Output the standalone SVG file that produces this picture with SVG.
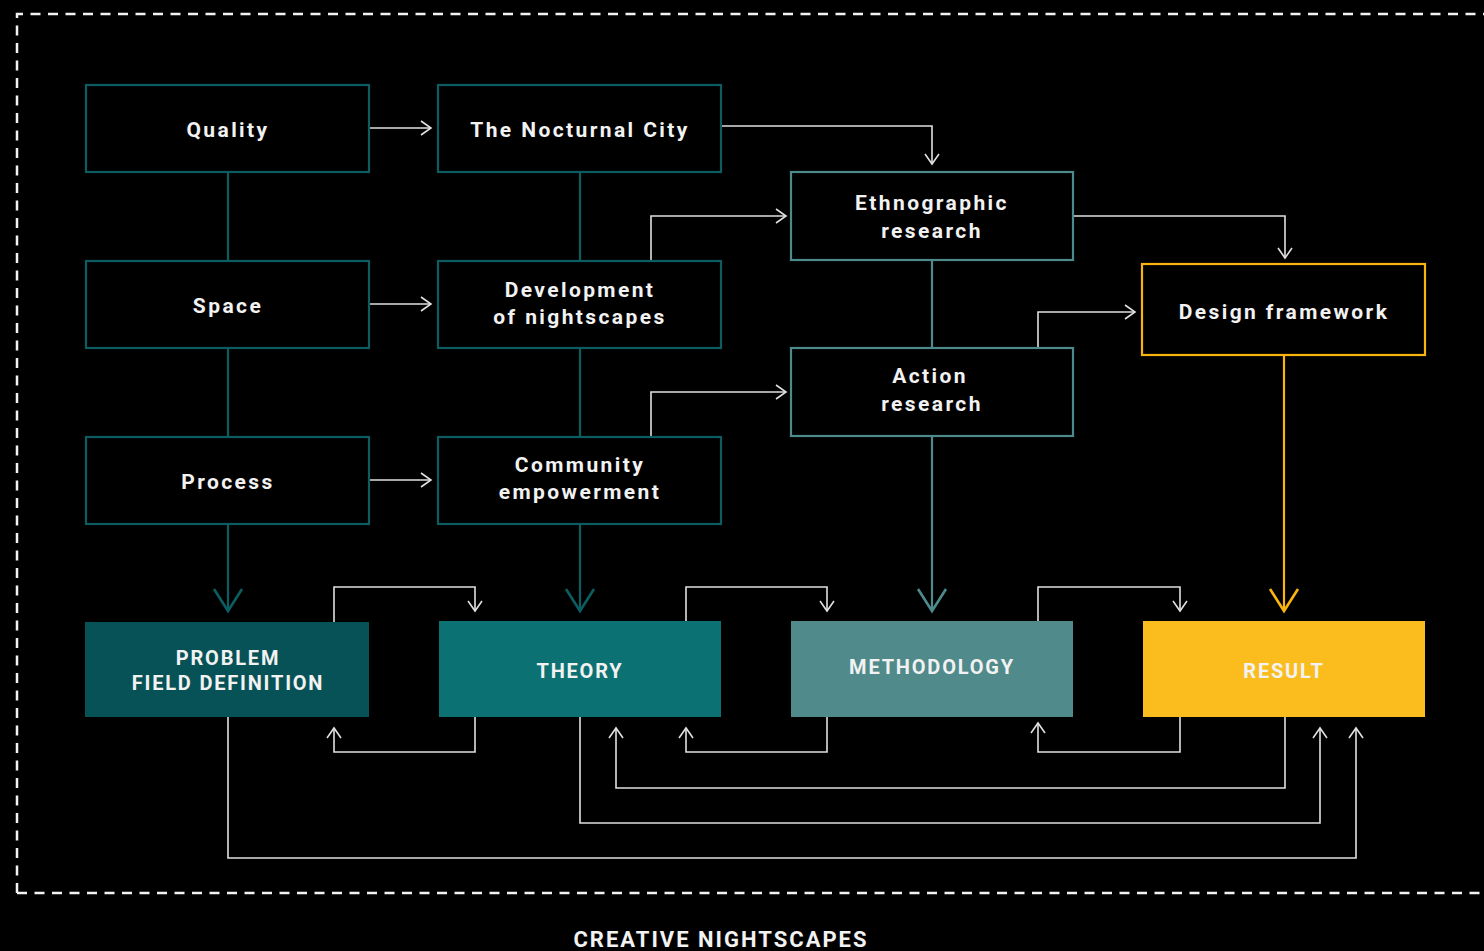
<svg xmlns="http://www.w3.org/2000/svg" width="1484" height="951" viewBox="0 0 1484 951">
<defs>
<style>
.txt{font-family:Roboto,"Liberation Sans",sans-serif;font-weight:bold;font-size:21px;letter-spacing:2.4px;fill:#f2f2f2;text-anchor:middle}
.cap{font-size:20px;letter-spacing:1.8px}
.box1{fill:#000;stroke:#0b5d61;stroke-width:2.2}
.box2{fill:#000;stroke:#4e8a8c;stroke-width:2.2}
.box3{fill:#000;stroke:#f9b410;stroke-width:2.2}
.w{fill:none;stroke:#e0e0e0;stroke-width:1.6;marker-end:url(#aw)}
.t1{fill:none;stroke:#0b5d61;stroke-width:2.2}
.t2{fill:none;stroke:#4e8a8c;stroke-width:2.2}
.y{fill:none;stroke:#f9b410;stroke-width:2.2}
</style>
<marker id="aw" markerUnits="userSpaceOnUse" markerWidth="24" markerHeight="24" viewBox="-12 -12 24 24" refX="0" refY="0" orient="auto">
<path d="M-10,-7 L0,0 L-10,7" fill="none" stroke="#e0e0e0" stroke-width="1.6"/>
</marker>
<marker id="at1" markerUnits="userSpaceOnUse" markerWidth="40" markerHeight="40" viewBox="-30 -20 40 40" refX="0" refY="0" orient="auto">
<path d="M-22,-14 L0,0 L-22,14" fill="none" stroke="#0b5d61" stroke-width="2.6"/>
</marker>
<marker id="at2" markerUnits="userSpaceOnUse" markerWidth="40" markerHeight="40" viewBox="-30 -20 40 40" refX="0" refY="0" orient="auto">
<path d="M-22,-14 L0,0 L-22,14" fill="none" stroke="#4e8a8c" stroke-width="2.6"/>
</marker>
<marker id="ay" markerUnits="userSpaceOnUse" markerWidth="40" markerHeight="40" viewBox="-30 -20 40 40" refX="0" refY="0" orient="auto">
<path d="M-22,-14 L0,0 L-22,14" fill="none" stroke="#f9b410" stroke-width="2.6"/>
</marker>
</defs>
<rect width="1484" height="951" fill="#000"/>
<path d="M17,893 L17,14 L1490,14 M17,893 L1490,893" fill="none" stroke="#f2f2f2" stroke-width="2.5" stroke-dasharray="10 7.5"/>

<g id="connectors">
<line class="t1" x1="228" y1="172" x2="228" y2="261"/>
<line class="t1" x1="228" y1="348" x2="228" y2="437"/>
<line class="t1" x1="228" y1="524" x2="228" y2="611" marker-end="url(#at1)"/>
<line class="t1" x1="580" y1="172" x2="580" y2="261"/>
<line class="t1" x1="580" y1="348" x2="580" y2="437"/>
<line class="t1" x1="580" y1="524" x2="580" y2="611" marker-end="url(#at1)"/>
<line class="t2" x1="932" y1="260" x2="932" y2="348"/>
<line class="t2" x1="932" y1="436" x2="932" y2="611" marker-end="url(#at2)"/>
<line class="y" x1="1284" y1="355" x2="1284" y2="611" marker-end="url(#ay)"/>

<path class="w" d="M370,128 L431,128"/>
<path class="w" d="M370,304 L431,304"/>
<path class="w" d="M370,480 L431,480"/>
<path class="w" d="M722,126 L932,126 L932,164"/>
<path class="w" d="M651,261 L651,216 L786,216"/>
<path class="w" d="M1074,216 L1285,216 L1285,258"/>
<path class="w" d="M651,437 L651,392 L786,392"/>
<path class="w" d="M1038,348 L1038,312 L1135,312"/>

<path class="w" d="M334,622 L334,587 L475,587 L475,611"/>
<path class="w" d="M475,717 L475,752 L334,752 L334,728"/>
<path class="w" d="M686,621 L686,587 L827,587 L827,611"/>
<path class="w" d="M827,717 L827,752 L686,752 L686,728"/>
<path class="w" d="M1038,621 L1038,587 L1180,587 L1180,611"/>
<path class="w" d="M1180,717 L1180,752 L1038,752 L1038,723"/>
<path class="w" d="M1285,717 L1285,788 L616,788 L616,728"/>
<path class="w" d="M580,717 L580,823 L1320,823 L1320,728"/>
<path class="w" d="M228,717 L228,858 L1356,858 L1356,728"/>
</g>

<g id="quality"><rect class="box1" x="86" y="85" width="283" height="87"/><text class="txt" x="228" y="137">Quality</text></g>
<g id="nocturnal"><rect class="box1" x="438" y="85" width="283" height="87"/><text class="txt" x="580" y="137">The Nocturnal City</text></g>
<g id="space"><rect class="box1" x="86" y="261" width="283" height="87"/><text class="txt" x="228" y="313">Space</text></g>
<g id="development"><rect class="box1" x="438" y="261" width="283" height="87"/><text class="txt" x="580" y="297">Development</text><text class="txt" x="580" y="324">of nightscapes</text></g>
<g id="process"><rect class="box1" x="86" y="437" width="283" height="87"/><text class="txt" x="228" y="489">Process</text></g>
<g id="community"><rect class="box1" x="438" y="437" width="283" height="87"/><text class="txt" x="580" y="472">Community</text><text class="txt" x="580" y="499">empowerment</text></g>
<g id="ethnographic"><rect class="box2" x="791" y="172" width="282" height="88"/><text class="txt" x="932" y="210">Ethnographic</text><text class="txt" x="932" y="238">research</text></g>
<g id="action"><rect class="box2" x="791" y="348" width="282" height="88"/><text class="txt" x="930" y="383">Action</text><text class="txt" x="932" y="411">research</text></g>
<g id="design"><rect class="box3" x="1142" y="264" width="283" height="91"/><text class="txt" x="1284" y="319">Design framework</text></g>

<g id="problem"><rect x="85" y="622" width="284" height="95" fill="#075257"/><text class="txt cap" x="228" y="665">PROBLEM</text><text class="txt cap" x="228" y="690">FIELD DEFINITION</text></g>
<g id="theory"><rect x="439" y="621" width="282" height="96" fill="#0b7172"/><text class="txt cap" x="580" y="678">THEORY</text></g>
<g id="methodology"><rect x="791" y="621" width="282" height="96" fill="#508a8a"/><text class="txt cap" x="932" y="674">METHODOLOGY</text></g>
<g id="result"><rect x="1143" y="621" width="282" height="96" fill="#fbbd1e"/><text class="txt cap" x="1284" y="678">RESULT</text></g>

<text class="txt" x="721" y="947" style="font-size:22px;letter-spacing:2px">CREATIVE NIGHTSCAPES</text>
</svg>
